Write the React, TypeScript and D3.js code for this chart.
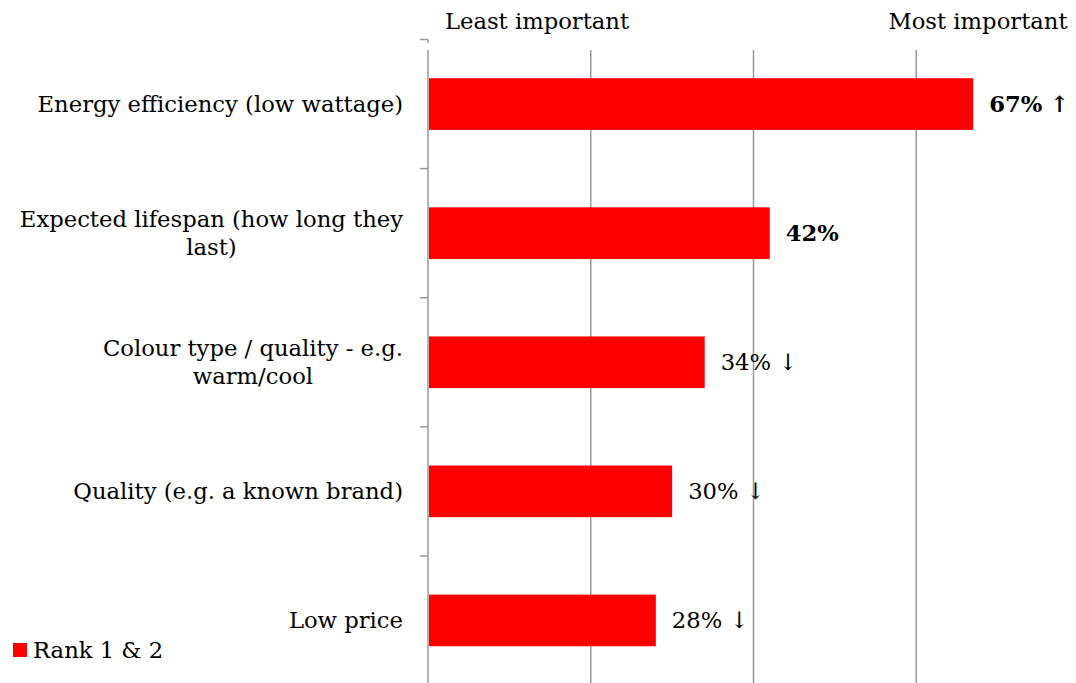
import React from "react";
import * as d3 from "d3";

const categories: string[][] = [
  ["Energy efficiency (low wattage)"],
  ["Expected lifespan (how long they", "last)"],
  ["Colour type / quality - e.g.", "warm/cool"],
  ["Quality (e.g. a known brand)"],
  ["Low price"],
];
const values = [67, 42, 34, 30, 28];
const valueLabels = ["67% ↑", "42%", "34% ↓", "30% ↓", "28% ↓"];
const boldLabels = [true, true, false, false, false];
const gridTicks = [0, 20, 40, 60, 80];
const seriesName = "Rank 1 & 2";

const W = 1076;
const H = 683;
const FONT = "'DejaVu Serif', serif";

export default function App() {
  const x = d3.scaleLinear().domain([0, 80]).range([428, 1079]);
  const y = d3
    .scaleBand<number>()
    .domain(d3.range(categories.length))
    .range([39.5, 685])
    .paddingInner(0)
    .paddingOuter(0);
  const bw = y.bandwidth();
  const barH = bw * 0.4;
  const fs = 22.7;
  const lineH = 28;

  return (
    <svg
      width={W}
      height={H}
      style={{ position: "absolute", left: 0, top: 0, background: "#fff" }}
      fontFamily={FONT}
    >
      {gridTicks.map((t) => (
        <line
          key={t}
          x1={x(t)}
          x2={x(t)}
          y1={50}
          y2={H}
          stroke="#9a9a9a"
          strokeWidth={1.5}
        />
      ))}
      {categories.map((_, i) => (
        <line
          key={"t" + i}
          x1={x(0) - 8}
          x2={x(0)}
          y1={y(i) as number}
          y2={y(i) as number}
          stroke="#9a9a9a"
          strokeWidth={1.5}
        />
      ))}
      <line x1={x(0)} x2={x(0)} y1={39.5} y2={43} stroke="#9a9a9a" strokeWidth={1.5} />
      {values.map((v, i) => (
        <rect
          key={"b" + i}
          x={x(0) + 1}
          y={(y(i) as number) + (bw - barH) / 2}
          width={x(v) - x(0) - 1}
          height={barH}
          fill="#ff0000"
        />
      ))}
      {values.map((v, i) => (
        <text
          key={"v" + i}
          x={x(v) + 16}
          y={(y(i) as number) + bw / 2 + 8}
          fontSize={fs}
          fontWeight={boldLabels[i] ? "bold" : "normal"}
          fill="#000"
        >
          {valueLabels[i]}
        </text>
      ))}
      {categories.map((lines, i) => {
        const cy = (y(i) as number) + bw / 2;
        const n = lines.length;
        return (
          <text
            key={"c" + i}
            x={403}
            y={cy + 8 - ((n - 1) / 2) * lineH}
            fontSize={fs}
            textAnchor="end"
            fill="#000"
          >
            {lines[0]}
          </text>
        );
      })}
      {categories.map((lines, i) => {
        if (lines.length < 2) return null;
        const cy = (y(i) as number) + bw / 2;
        return (
          <CenteredLine
            key={"l2" + i}
            first={lines[0]}
            second={lines[1]}
            rightX={403}
            y={cy + 8 + lineH / 2}
            fs={fs}
          />
        );
      })}
      <text x={537} y={29} fontSize={fs} textAnchor="middle" fill="#000">
        Least important
      </text>
      <text x={978} y={29} fontSize={fs} textAnchor="middle" fill="#000">
        Most important
      </text>
      <rect x={13} y={643} width={14} height={14} fill="#ff0000" />
      <text x={33} y={658} fontSize={fs} fill="#000">
        {seriesName}
      </text>
    </svg>
  );
}

function CenteredLine({
  first,
  second,
  rightX,
  y,
  fs,
}: {
  first: string;
  second: string;
  rightX: number;
  y: number;
  fs: number;
}) {
  const [cx, setCx] = React.useState<number | null>(null);
  const measureRef = React.useRef<SVGTextElement>(null);
  React.useLayoutEffect(() => {
    if (measureRef.current) {
      const w = measureRef.current.getComputedTextLength();
      setCx(rightX - w / 2);
    }
  }, [first, rightX, fs]);
  return (
    <g>
      <text ref={measureRef} x={-9999} y={-9999} fontSize={fs} visibility="hidden">
        {first}
      </text>
      {cx !== null && (
        <text x={cx} y={y} fontSize={fs} textAnchor="middle" fill="#000">
          {second}
        </text>
      )}
    </g>
  );
}
